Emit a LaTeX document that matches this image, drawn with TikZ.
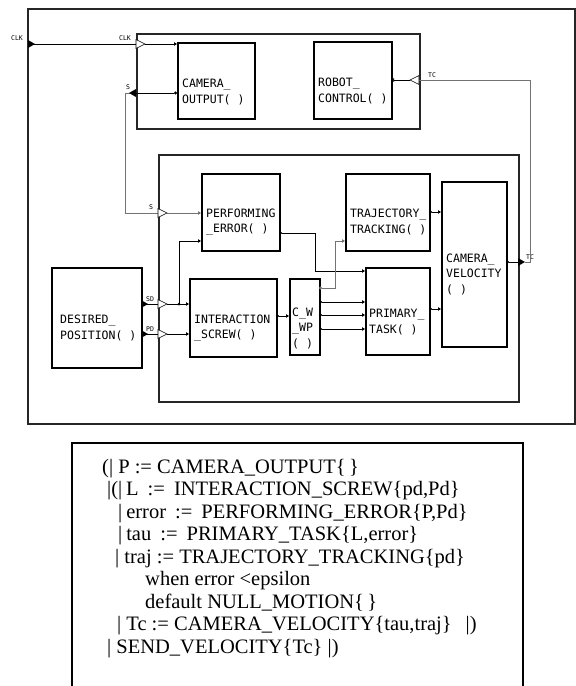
\documentclass[tikz,border=0pt]{standalone}
\usepackage{fontspec}
\setmainfont{Liberation Serif}
\newfontfamily\blkfont{DejaVu Sans Mono}
\usepackage{tikz}
\usetikzlibrary{arrows.meta}

\begin{document}
\begin{tikzpicture}[x=1pt,y=-1pt,
  frame/.style={draw=black!85,line width=1.5pt},
  blk/.style={draw=black,line width=1.6pt,anchor=north west,inner sep=0pt},
  lbl/.style={font=\blkfont\fontsize{11.5}{15.5}\selectfont,align=left,anchor=west,inner sep=0pt},
  plbl/.style={font=\blkfont\fontsize{6.5}{7}\selectfont,inner sep=0pt},
  wire/.style={line width=0.8pt},
  gwire/.style={draw=black!55,line width=1pt},
  intip/.style={-{Triangle[open,length=3pt,width=3.5pt]}},
  conn/.style={line width=0.8pt,{Circle[length=3pt]}-{Triangle[open,length=3pt,width=3.5pt]}},
  codeline/.style={font=\fontsize{20.5}{22}\selectfont,anchor=base west,inner sep=0pt},
  widecode/.style={codeline,execute at begin node={\spaceskip=9pt plus 0pt\relax}},
  inport/.pic={\draw[fill=white,line width=0.6pt] (0,-4.5) -- (9,0) -- (0,4.5) -- cycle;},
  outport/.pic={\fill (0,-4) -- (7,0) -- (0,4) -- cycle;}
]
\useasboundingbox (0,0) rectangle (576,686);

% frames
\draw[frame] (28,9) rectangle (575,424);
\node[blk,frame,minimum width=283pt,minimum height=95pt] (topBox) at (136,33) {};
\node[blk,frame,minimum width=360pt,minimum height=247pt] (lowBox) at (158,154) {};

% blocks
\node[blk,minimum width=77pt,minimum height=76pt] (co) at (177,42) {};
\node[lbl] (coTxt) at (182,92) {CAMERA\_\\OUTPUT( )};
\node[blk,minimum width=78pt,minimum height=77pt] (rc) at (313,41) {};
\node[lbl] (rcTxt) at (318,91) {ROBOT\_\\CONTROL( )};
\node[blk,minimum width=78pt,minimum height=77pt] (pe) at (201,173) {};
\node[lbl] (peTxt) at (206,222) {PERFORMING\\\_ERROR( )};
\node[blk,minimum width=84pt,minimum height=77pt] (tt) at (345,173) {};
\node[lbl] (ttTxt) at (350,222) {TRAJECTORY\_\\TRACKING( )};
\node[blk,minimum width=65pt,minimum height=165pt] (cv) at (441,181) {};
\node[lbl] (cvTxt) at (446,274) {CAMERA\_\\VELOCITY\\( )};
\node[blk,minimum width=90pt,minimum height=100pt] (dp) at (51,267) {};
\node[lbl] (dpTxt) at (60,328) {DESIRED\_\\POSITION( )};
\node[blk,minimum width=87pt,minimum height=78pt] (is) at (189,278) {};
\node[lbl] (isTxt) at (194,328) {INTERACTION\\\_SCREW( )};
\node[blk,minimum width=30pt,minimum height=76pt] (cw) at (289,278) {};
\node[lbl] (cwTxt) at (292,328) {C\_W\\\_WP\\( )};
\node[blk,minimum width=64pt,minimum height=87pt] (prim) at (365,267) {};
\node[lbl] (primTxt) at (369,322) {PRIMARY\_\\TASK( )};

% ports
\coordinate (clkA) at (28,44);
\coordinate (clkB) at (136,44);
\coordinate (coClk) at (177,44);
\coordinate (coS) at (177,93);
\coordinate (sB) at (136,93);
\coordinate (sC) at (158,213);
\coordinate (peS) at (201,213);
\coordinate (peSd) at (201,241);
\coordinate (peOut) at (279,233);
\coordinate (dpSd) at (141,304);
\coordinate (dpPd) at (141,334);
\coordinate (sdIn) at (158,304);
\coordinate (pdIn) at (158,334);
\coordinate (sdBr) at (179,304);
\coordinate (isSd) at (189,304);
\coordinate (isPd) at (189,334);
\coordinate (isOut) at (276,316);
\coordinate (cwIn) at (289,316);
\coordinate (cwA) at (319,288);
\coordinate (cwB) at (319,302);
\coordinate (cwC) at (319,315);
\coordinate (cwD) at (319,329);
\coordinate (ttIn) at (345,241);
\coordinate (ttOut) at (429,212);
\coordinate (prA) at (365,271);
\coordinate (prB) at (365,302);
\coordinate (prC) at (365,315);
\coordinate (prD) at (365,329);
\coordinate (prOut) at (429,309);
\coordinate (cvA) at (441,212);
\coordinate (cvB) at (441,309);
\coordinate (cvOut) at (506,262);
\coordinate (tcB) at (518,262);
\coordinate (tcA) at (419,80);
\coordinate (rcTc) at (391,80);

% port labels
\node[plbl] (clkL1) at (17,38) {CLK};
\node[plbl] (clkL2) at (125,38) {CLK};
\node[plbl] (sL1) at (128,87) {S};
\node[plbl] (sL2) at (151,207) {S};
\node[plbl] (sdL) at (150,299) {SD};
\node[plbl] (pdL) at (150,329) {PD};
\node[plbl] (tcL1) at (432,75) {TC};
\node[plbl] (tcL2) at (530,257) {TC};

% wires
\draw[wire] (clkA) -- (clkB);
\draw[wire,intip] ([xshift=9pt]clkB) -- (coClk);
\draw[wire,{Circle[length=3pt]}-] (coS) -- (sB);
\draw[gwire] ([xshift=-6pt]sB) -- ++(-5,0) |- (sC);
\draw[gwire,intip] ([xshift=9pt]sC) -- (peS);
\draw[wire] (dpSd) -- (sdIn);
\draw[wire,intip] ([xshift=9pt]sdIn) -- (isSd);
\fill (sdBr) circle (1.5);
\draw[wire,intip] (sdBr) |- (peSd);
\draw[wire] (dpPd) -- (pdIn);
\draw[wire,intip] ([xshift=9pt]pdIn) -- (isPd);
\draw[conn] (isOut) -- (cwIn);
\draw[conn] (peOut) -- ++(36,0) |- (prA);
\draw[conn,draw=black!55] (cwA) -- ++(16,0) |- (ttIn);
\draw[conn] (cwB) -- (prB);
\draw[conn] (cwC) -- (prC);
\draw[conn] (cwD) -- (prD);
\draw[conn] (ttOut) -- (cvA);
\draw[conn] (prOut) -- (cvB);
\draw[wire,{Circle[length=3pt]}-] (cvOut) -- (tcB);
\draw[gwire] ([xshift=7pt]tcB) -- ++(5,0) |- (tcA);
\draw[wire,intip] ([xshift=-9pt]tcA) -- (rcTc);

\pic at (clkA) {outport};
\pic at (clkB) {inport};
\pic[rotate=180] at (sB) {outport};
\pic at (sC) {inport};
\pic at (dpSd) {outport};
\pic at (dpPd) {outport};
\pic at (sdIn) {inport};
\pic at (pdIn) {inport};
\pic at (tcB) {outport};
\pic[rotate=180] at (tcA) {inport};

% signal program
\draw[line width=2pt] (72,686) -- (72,443) -- (523,443) -- (523,686);
\node[codeline] (c1) at (102,473) {(| P := CAMERA\_OUTPUT\{\,\}};
\node[widecode] (c2) at (107,495.5) {|(|\hspace{4pt}L := INTERACTION\_SCREW\{pd,Pd\}};
\node[widecode] (c3) at (118,518) {|\hspace{4pt}error := PERFORMING\_ERROR\{P,Pd\}};
\node[widecode] (c4) at (118,540.5) {|\hspace{4pt}tau := PRIMARY\_TASK\{L,error\}};
\node[codeline] (c5) at (115,563) {| traj := TRAJECTORY\_TRACKING\{pd\}};
\node[codeline] (c6) at (145,585.5) {when error <epsilon};
\node[codeline] (c7) at (145,608) {default NULL\_MOTION\{\,\}};
\node[codeline] (c8) at (117,630.5) {| Tc := CAMERA\_VELOCITY\{tau,traj\}\hspace{14pt}|)};
\node[codeline] (c9) at (107,653) {| SEND\_VELOCITY\{Tc\} |)};
\end{tikzpicture}
\end{document}
